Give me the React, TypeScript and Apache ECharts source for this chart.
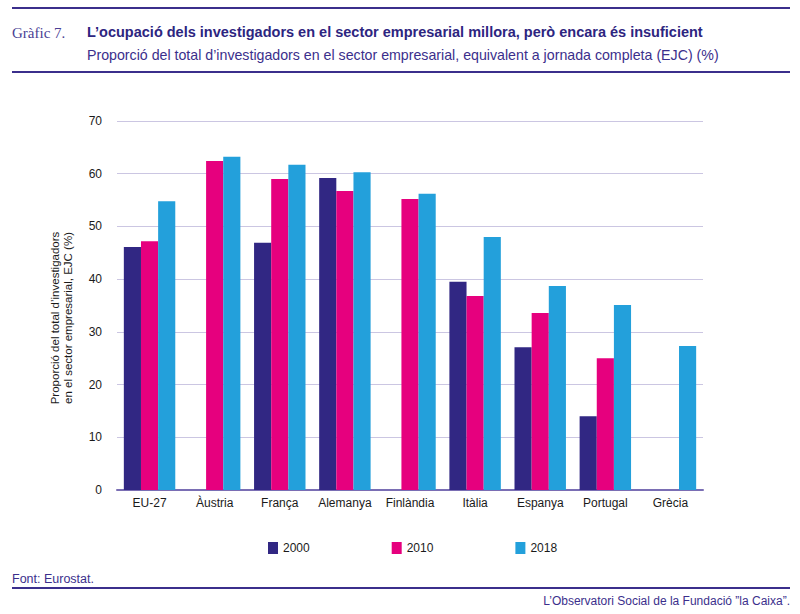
import React, { useEffect, useRef } from 'react';
import * as echarts from 'echarts';

const categories = ['EU-27', 'Àustria', 'França', 'Alemanya', 'Finlàndia', 'Itàlia', 'Espanya', 'Portugal', 'Grècia'];
const years = ['2000', '2010', '2018'];
const values2000 = [46.1, null, 46.9, 59.2, null, 39.5, 27.1, 14.0, null];
const values2010 = [47.2, 62.4, 59.0, 56.7, 55.2, 36.8, 33.6, 25.0, null];
const values2018 = [54.8, 63.2, 61.7, 60.3, 56.2, 48.0, 38.7, 35.1, 27.3];
const yTicks = { min: 0, max: 70, interval: 10 };

const NAVY = '#312783';
const PINK = '#e6007e';
const BLUE = '#23a0db';
const RULE = '#3b2f8c';
const FONT = '"Liberation Sans", Arial, sans-serif';

const App: React.FC = () => {
  const chartRef = useRef<HTMLDivElement>(null);

  useEffect(() => {
    document.body.style.margin = '0';
    if (!chartRef.current) return;
    const chart = echarts.init(chartRef.current, undefined, { renderer: 'svg' });

    const seriesData = [values2000, values2010, values2018];
    const colors = [NAVY, PINK, BLUE];

    chart.setOption({
      animation: false,
      textStyle: { fontFamily: FONT },
      grid: { left: 117, right: 97, top: 121, bottom: 124 },
      legend: {
        data: years,
        left: 263,
        top: 537,
        icon: 'rect',
        itemWidth: 10,
        itemHeight: 12,
        itemGap: 82,
        textStyle: { color: '#1a1a1a', fontSize: 12, fontFamily: FONT }
      },
      xAxis: {
        type: 'category',
        data: categories,
        axisLine: { lineStyle: { color: '#7a6eb4', width: 2 } },
        axisTick: { show: false },
        axisLabel: { color: '#1a1a1a', fontSize: 12, margin: 7, interval: 0 }
      },
      yAxis: {
        type: 'value',
        min: yTicks.min,
        max: yTicks.max,
        interval: yTicks.interval,
        axisLabel: { color: '#1a1a1a', fontSize: 12, margin: 15 },
        splitLine: { lineStyle: { color: '#cbc6e2', width: 1 } }
      },
      series: years.map((y, i) => ({
        name: y,
        type: 'bar',
        data: seriesData[i],
        barGap: '0%',
        barCategoryGap: '21%',
        itemStyle: { color: colors[i] }
      })),
      graphic: [
        { type: 'line', shape: { x1: 12, y1: 8, x2: 790, y2: 8 }, style: { stroke: RULE, lineWidth: 2 } },
        { type: 'line', shape: { x1: 12, y1: 72, x2: 790, y2: 72 }, style: { stroke: RULE, lineWidth: 2 } },
        {
          type: 'text', left: 12, top: 25,
          style: { text: 'Gràfic 7.', fill: '#4a3f94', font: '15px "Liberation Serif", serif' }
        },
        {
          type: 'text', left: 87, top: 24,
          style: {
            text: 'L’ocupació dels investigadors en el sector empresarial millora, però encara és insuficient',
            fill: '#2d2580', font: 'bold 14.5px ' + FONT
          }
        },
        {
          type: 'text', left: 87, top: 48,
          style: {
            text: 'Proporció del total d’investigadors en el sector empresarial, equivalent a jornada completa (EJC) (%)',
            fill: '#3b2f8c', font: '14.2px ' + FONT
          }
        },
        {
          type: 'text', x: 61, y: 318, rotation: Math.PI / 2,
          style: {
            text: 'Proporció del total d’investigadors\nen el sector empresarial, EJC (%)',
            fill: '#1a1a1a', font: '11.5px ' + FONT, align: 'center', verticalAlign: 'middle', lineHeight: 13
          }
        },
        {
          type: 'text', left: 12, top: 572,
          style: { text: 'Font: Eurostat.', fill: '#3b2f8c', font: '12.5px ' + FONT }
        },
        { type: 'line', shape: { x1: 12, y1: 588, x2: 790, y2: 588 }, style: { stroke: RULE, lineWidth: 2 } },
        {
          type: 'text', right: 10, top: 595,
          style: { text: 'L’Observatori Social de la Fundació ”la Caixa”.', fill: '#3b2f8c', font: '12px ' + FONT }
        }
      ]
    });

    return () => {
      chart.dispose();
    };
  }, []);

  return <div ref={chartRef} style={{ width: 800, height: 614 }} />;
};

export default App;
